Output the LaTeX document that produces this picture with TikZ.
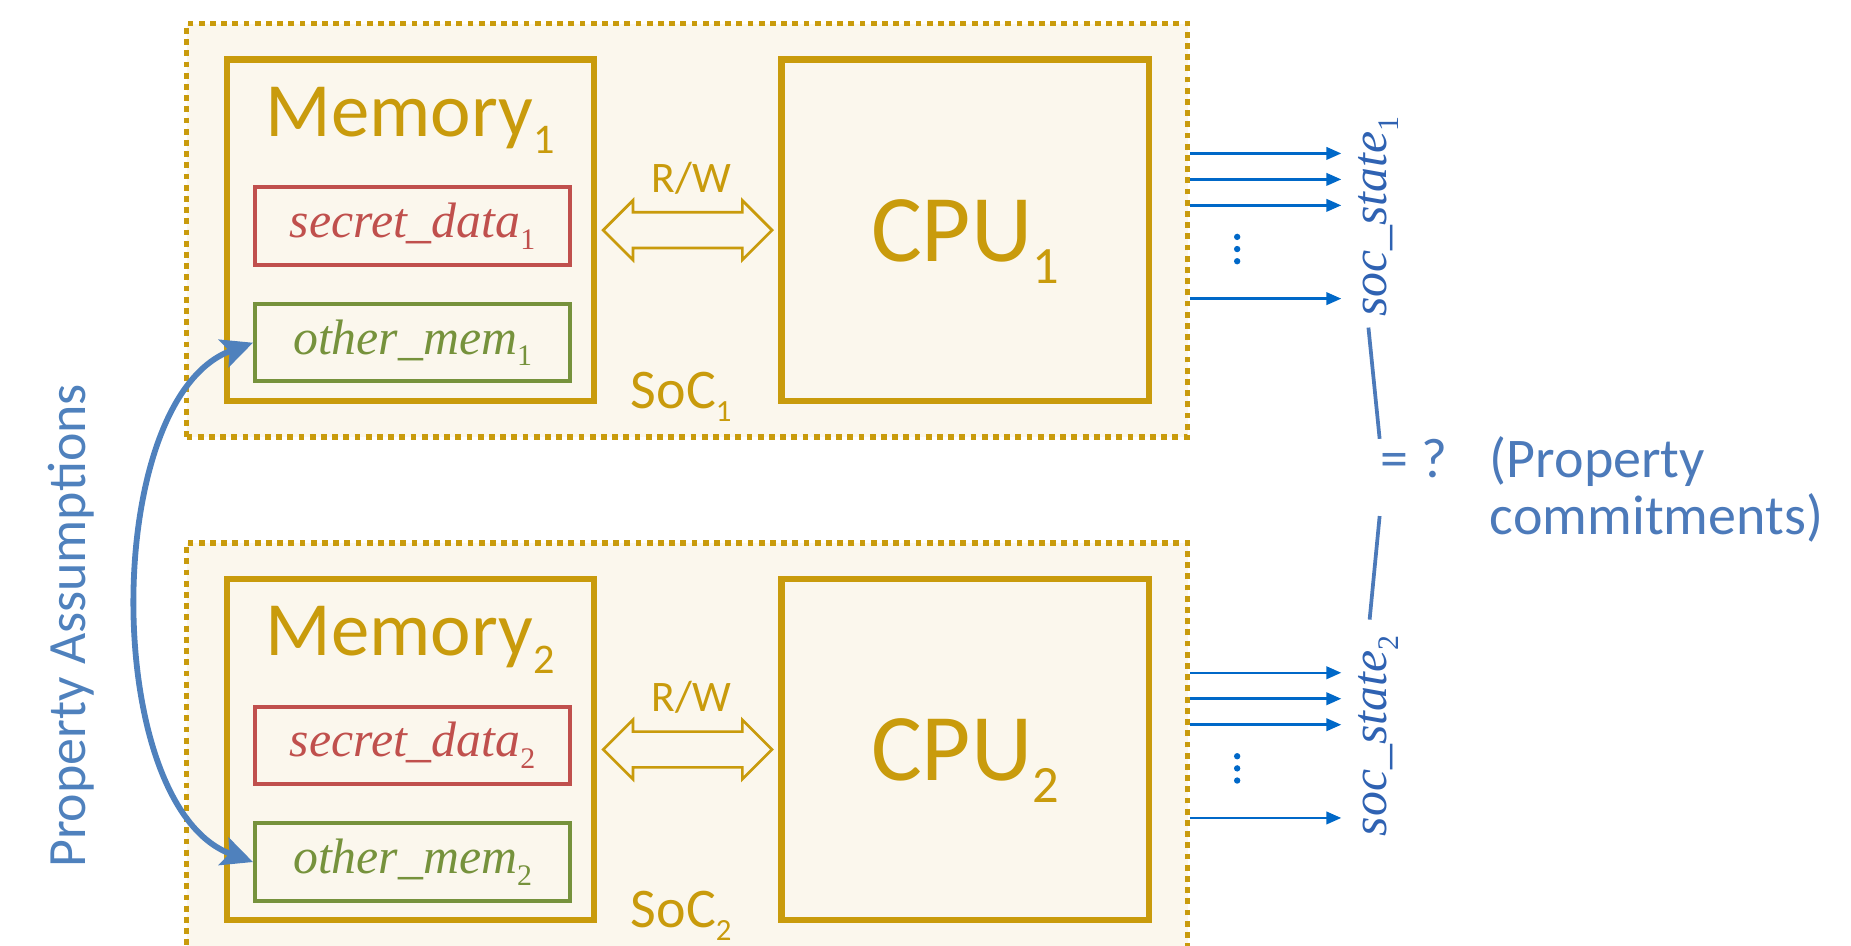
\documentclass[tikz,border=0pt]{standalone}
\usepackage{fontspec}
\setmainfont{Carlito}
\newfontfamily\timesfont{Liberation Serif}
\usetikzlibrary{arrows.meta, positioning, shapes.arrows, calc}
\definecolor{socgold}{RGB}{201,155,12}
\definecolor{socfill}{RGB}{251,247,237}
\definecolor{secred}{RGB}{192,80,77}
\definecolor{othgreen}{RGB}{118,146,60}
\definecolor{outblue}{RGB}{0,104,200}
\definecolor{stateblue}{RGB}{47,98,178}
\definecolor{assumeblue}{RGB}{79,129,189}
\definecolor{cmtblue}{RGB}{76,122,186}
\newcommand{\lowidx}[2][0.55]{\raisebox{-0.23em}{\scalebox{#1}{\upshape#2}}}
\tikzset{
  socbox/.style={rectangle,draw=socgold,fill=socfill,line width=1.4pt,dash pattern=on 1.4pt off 1.3pt,minimum width=8.48cm,minimum height=3.5cm,inner sep=0pt},
  unitbox/.style={rectangle,draw=socgold,line width=1.5pt,minimum width=3.11cm,minimum height=2.89cm,inner sep=0pt},
  databox/.style={rectangle,line width=0.95pt,minimum width=2.67cm,minimum height=0.655cm,inner sep=0pt,font=\timesfont\itshape\fontsize{12}{14}\selectfont},
  secbox/.style={databox,draw=secred,text=secred},
  othbox/.style={databox,draw=othgreen,text=othgreen},
  memtext/.style={font=\fontsize{18.5}{20}\selectfont,text=socgold,inner sep=0pt,anchor=base},
  cputext/.style={font=\fontsize{23}{26}\selectfont,text=socgold,inner sep=0pt,anchor=base},
  soctext/.style={font=\fontsize{13.5}{15}\selectfont,text=socgold,inner sep=0pt,anchor=base west},
  rwtext/.style={font=\fontsize{10.5}{12}\selectfont,text=socgold,inner sep=0pt,anchor=base},
  rwarrow/.style={double arrow,draw=socgold,fill=socfill,line width=0.65pt,minimum height=1.43cm,minimum width=0.48cm,inner sep=0.14cm,double arrow head extend=0.1cm},
  outarrow/.style={->,>={Triangle[length=3.6pt,width=3pt]},line width=0.6pt,outblue,shorten >=3pt},
  statetext/.style={rotate=90,font=\timesfont\itshape\fontsize{12}{14}\selectfont,text=stateblue,inner sep=1pt},
  assumearrow/.style={<->,>={Stealth[length=7.5pt,width=7pt,inset=1.5pt]},line width=1.4pt,assumeblue},
  assumetext/.style={rotate=90,font=\fontsize{13}{15}\selectfont,text=assumeblue},
  eqtext/.style={font=\fontsize{13.5}{15}\selectfont,text=cmtblue,inner sep=0pt,anchor=base west,text height=0.32cm,text depth=0.32cm},
  cmttext/.style={font=\fontsize{13.5}{13.8}\selectfont,text=cmtblue,inner sep=0pt,align=left},
  cmtline/.style={line width=0.9pt,cmtblue},
}
\begin{document}
\begin{tikzpicture}
  \useasboundingbox (0,0) rectangle (15.68,8.01);
  \clip (0,0) rectangle (15.68,8.01);
  \node[socbox] (soc1) at (5.82,6.06) {};
  \node[socbox,below=0.85cm of soc1] (soc2) {};
  \node[unitbox] (mem1) at ($(soc1.center)+(-2.345,0)$) {};
  \node[unitbox] (cpu1) at ($(soc1.center)+(2.355,0)$) {};
  \node[unitbox] (mem2) at ($(soc2.center)+(-2.345,0)$) {};
  \node[unitbox] (cpu2) at ($(soc2.center)+(2.355,0)$) {};
  \node[secbox] (sec1) at ($(mem1.center)+(0.02,0.035)$) {secret\_data\lowidx[0.6]{1}};
  \node[othbox,below=0.30cm of sec1] (oth1) {other\_mem\lowidx[0.6]{1}};
  \node[secbox] (sec2) at ($(mem2.center)+(0.02,0.035)$) {secret\_data\lowidx[0.6]{2}};
  \node[othbox,below=0.30cm of sec2] (oth2) {other\_mem\lowidx[0.6]{2}};
  \node[memtext] (mem1lbl) at ($(mem1.center)+(0,0.795)$) {Memory\lowidx{1}};
  \node[memtext] (mem2lbl) at ($(mem2.center)+(0,0.795)$) {Memory\lowidx{2}};
  \node[cputext] (cpu1lbl) at ($(cpu1.center)+(0,-0.265)$) {CPU\lowidx{1}};
  \node[cputext] (cpu2lbl) at ($(cpu2.center)+(0,-0.265)$) {CPU\lowidx{2}};
  \node[soctext] (soc1lbl) at ($(mem1.south east)+(0.28,-0.04)$) {SoC\lowidx{1}};
  \node[soctext] (soc2lbl) at ($(mem2.south east)+(0.28,-0.04)$) {SoC\lowidx{2}};
  \node[rwarrow] (rw1) at ($(mem1.east)!0.5!(cpu1.west)$) {};
  \node[rwarrow] (rw2) at ($(mem2.east)!0.5!(cpu2.west)$) {};
  \node[rwtext] (rw1lbl) at ($(rw1.center)+(0.03,0.32)$) {R/W};
  \node[rwtext] (rw2lbl) at ($(rw2.center)+(0.03,0.32)$) {R/W};
  \node[statetext] (st1) at ($(soc1.center)+(5.857,0.115)$) {soc\_state\lowidx[0.6]{1}};
  \node[statetext] (st2) at ($(soc2.center)+(5.857,0.115)$) {soc\_state\lowidx[0.6]{2}};
  \foreach \s in {1,2} {
    \foreach \dy in {0.65,0.43,0.21,-0.58} {
      \coordinate (out) at ($(soc\s.east)+(0,\dy)$);
      \draw[outarrow] (out) -- (out -| st\s.north);
    }
    % vertical ellipsis between the outputs
    \foreach \k in {-1,0,1}
      \fill[outblue] ($(soc\s.center)+(4.66,-0.16-0.103*\k)$) circle (0.027);
  }
  \node[eqtext] (eqq) at ($(st1.center)!0.5!(st2.center)+(0.01,-0.01)$) {= ?};
  \node[cmttext,anchor=base west] (cmt) at ($(eqq.base east)+(0.35,-0.485)$) {(Property\\commitments)};
  \draw[cmtline] ($(st1.west)+(-0.085,-0.05)$) -- (eqq.north west);
  \draw[cmtline] (eqq.south west) -- ($(st2.east)+(-0.075,0.095)$);
  \draw[assumearrow] (oth1.west) to[out=200,in=160,looseness=0.8] (oth2.west);
  \node[assumetext] (assume) at ($(oth1.west)!0.5!(oth2.west)+(-1.54,-0.2)$) {Property Assumptions};
\end{tikzpicture}
\end{document}
